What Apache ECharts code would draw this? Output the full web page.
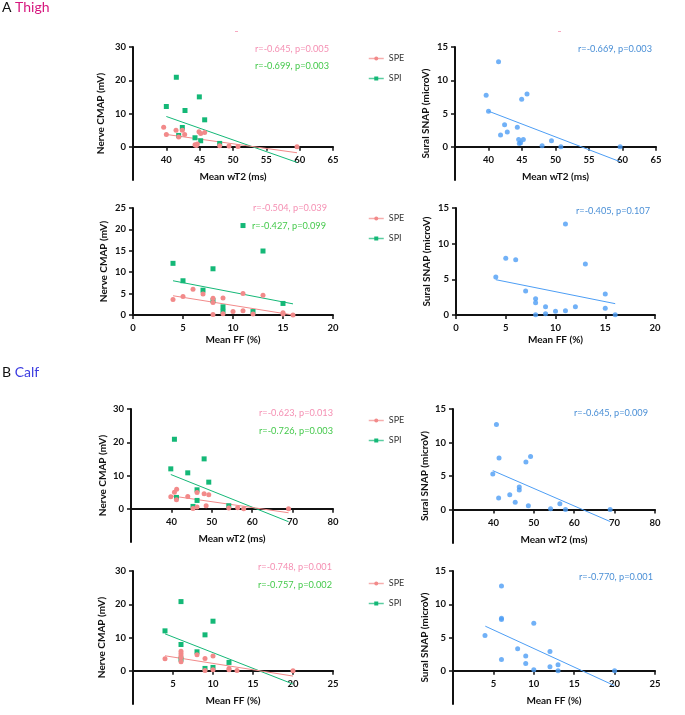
<!DOCTYPE html>
<html><head><meta charset="utf-8">
<script src="https://cdn.jsdelivr.net/npm/echarts@6/dist/echarts.min.js"></script>
<style>html,body{margin:0;padding:0;background:#fff}#c{width:685px;height:715px}</style>
</head><body><div id="c"></div>
<script>
// ---------- DATA ----------
// A Thigh: Mean wT2 vs Nerve CMAP
const thighWT2CmapSPE = [[39.6,5.9],[40,3.7],[41.45,5.0],[41.85,2.9],[42.4,5.0],[42.75,3.7],[44.3,0.6],[44.5,0.4],[44.65,0.8],[44.9,4.5],[45.15,4.0],[45.75,4.3],[48,0.3],[49.4,0.2],[50.75,0.1],[59.6,0]];
const thighWT2CmapSPI = [[40,12.1],[41.5,20.9],[44.95,15],[42.8,10.9],[45.75,8.1],[42.4,5.8],[41.85,3.4],[44.3,2.7],[45.15,1.8],[48,1.0]];
const thighWT2CmapFitSPE = [[40,3.7],[59.6,-1.8]];
const thighWT2CmapFitSPI = [[40,9.1],[59.6,-4.7]];
// A Thigh: Mean wT2 vs Sural SNAP
const thighWT2Snap = [[39.65,7.75],[40,5.35],[41.5,12.8],[41.8,1.75],[42.4,3.3],[42.8,2.2],[44.3,2.95],[44.5,1.1],[44.6,0.5],[44.8,0.6],[44.95,7.15],[45.2,1.1],[45.75,7.95],[48,0.15],[49.4,0.9],[50.8,0],[59.65,0]];
const thighWT2SnapFit = [[40,5.35],[59.65,-2.25]];
// A Thigh: Mean FF vs Nerve CMAP
const thighFFCmapSPE = [[4,3.65],[5,4.35],[6,6.0],[7,4.9],[8,3.9],[8,2.9],[8,0.1],[9,4.0],[9,0.3],[10,0.8],[11,1.0],[11,5.05],[12,0.25],[13,4.6],[15,0.55],[15,0.25],[16,0]];
const thighFFCmapSPI = [[4,12.07],[5,8.0],[7,5.8],[8,10.8],[8,3.35],[9,1.9],[9,0.85],[11,20.9],[13,14.95],[12,0.8],[15,2.7]];
const thighFFCmapFitSPE = [[4,4.5],[16,0]];
const thighFFCmapFitSPI = [[4,8.0],[16,2.6]];
// A Thigh: Mean FF vs Sural SNAP
const thighFFSnap = [[4,5.33],[5,7.94],[6,7.76],[7,3.36],[8,2.29],[8,1.73],[8,0.05],[9,1.17],[9,0.19],[10,0.51],[11,12.76],[11,0.61],[12,1.17],[13,7.15],[15,2.94],[15,0.93],[16,0.05]];
const thighFFSnapFit = [[4,4.95],[16,1.59]];
// B Calf: Mean wT2 vs Nerve CMAP
const calfWT2CmapSPE = [[39.85,3.6],[40.75,5.0],[41.3,5.9],[41.25,2.7],[44.05,3.7],[45.35,0.1],[46.35,4.9],[46.35,0.5],[48.1,4.5],[48.6,0.9],[49.25,4.2],[54.2,0.2],[56.4,0.3],[57.9,0],[69,0]];
const calfWT2CmapSPI = [[39.85,12],[40.75,20.9],[41.25,3.4],[44.05,10.8],[45.35,0.7],[46.35,5.7],[46.35,2.5],[48.1,15],[49.25,8],[54.2,0.9]];
const calfWT2CmapFitSPE = [[39.85,3.9],[69,-1.2]];
const calfWT2CmapFitSPI = [[39.85,10.3],[69,-3.9]];
// B Calf: Mean wT2 vs Sural SNAP
const calfWT2Snap = [[39.85,5.3],[40.75,12.7],[41.3,1.7],[41.4,7.7],[44.05,2.2],[45.4,1.1],[46.4,3.35],[46.4,2.9],[48.05,7.1],[48.65,0.55],[49.2,7.9],[54.15,0.1],[56.45,0.85],[57.85,0],[68.9,0]];
const calfWT2SnapFit = [[39.85,5.8],[68.9,-1.8]];
// B Calf: Mean FF vs Nerve CMAP
const calfFFCmapSPE = [[4,3.6],[6,5.9],[6,5.2],[6,4.5],[6,3.9],[6,2.7],[8,4.8],[9,3.7],[9,0.1],[10,4.4],[10,0.3],[12,0.7],[12,0.3],[13,0.1],[20,0]];
const calfFFCmapSPI = [[4,12.0],[6,20.8],[6,7.9],[6,3.5],[8,5.7],[9,10.8],[10,14.9],[9,0.7],[10,1.0],[12,2.5]];
const calfFFCmapFitSPE = [[4,4.5],[20,-1.6]];
const calfFFCmapFitSPI = [[4,11.1],[20,-4.0]];
// B Calf: Mean FF vs Sural SNAP
const calfFFSnap = [[3.96,5.3],[6,12.75],[6,7.9],[6,7.7],[6,1.7],[8,3.3],[9,2.2],[9,1.1],[10,7.15],[10,0.15],[12,2.9],[12,0.6],[13,0.9],[13,0],[20,0]];
const calfFFSnapFit = [[4,6.7],[20,-2.25]];

// Tick labels
const wT2ThighTicks = [40,45,50,55,60,65];
const wT2CalfTicks = [40,50,60,70,80];
const ffThighTicks = [0,5,10,15,20];
const ffCalfTicks = [5,10,15,20,25];
const cmapTicks30 = [0,10,20,30];
const cmapTicks25 = [0,5,10,15,20,25];
const snapTicks = [0,5,10,15];

// Correlation annotations
const statsText = {
  a1: ['r=-0.645, p=0.005','r=-0.699, p=0.003'],
  a2: ['r=-0.669, p=0.003'],
  a3: ['r=-0.504, p=0.039','r=-0.427, p=0.099'],
  a4: ['r=-0.405, p=0.107'],
  b1: ['r=-0.623, p=0.013','r=-0.726, p=0.003'],
  b2: ['r=-0.645, p=0.009'],
  b3: ['r=-0.748, p=0.001','r=-0.757, p=0.002'],
  b4: ['r=-0.770, p=0.001']
};

// ---------- STYLE / LAYOUT ----------
const FONT = 'Lato, "Open Sans", sans-serif';
const C_SPE = '#f28a8a', C_SPI = '#14b877', C_SNAP = '#4d9ef5';
const T_SPE = '#f590b3', T_SPI = '#45c94c', T_SNAP = '#4a8fd6';

const panels = [
  {grid:{left:133,top:47,width:200,height:133}, x:[35,65,5,wT2ThighTicks], y:[-10,30,10,cmapTicks30], xName:'Mean wT2 (ms)', yName:'Nerve CMAP (mV)', xGap:25, yGap:27,
   spe:thighWT2CmapSPE, spi:thighWT2CmapSPI, fitSpe:thighWT2CmapFitSPE, fitSpi:thighWT2CmapFitSPI},
  {grid:{left:455,top:47,width:201,height:133}, x:[35,65,5,wT2ThighTicks], y:[-5,15,5,snapTicks], xName:'Mean wT2 (ms)', yName:'Sural SNAP (microV)', xGap:25, yGap:24,
   snap:thighWT2Snap, fitSnap:thighWT2SnapFit},
  {grid:{left:133,top:208,width:200,height:107}, x:[0,20,5,ffThighTicks], y:[0,25,5,cmapTicks25], xName:'Mean FF (%)', yName:'Nerve CMAP (mV)', xGap:20, yGap:24,
   spe:thighFFCmapSPE, spi:thighFFCmapSPI, fitSpe:thighFFCmapFitSPE, fitSpi:thighFFCmapFitSPI},
  {grid:{left:456,top:208,width:199,height:107}, x:[0,20,5,ffThighTicks], y:[0,15,5,snapTicks], xName:'Mean FF (%)', yName:'Sural SNAP (microV)', xGap:20, yGap:24,
   snap:thighFFSnap, fitSnap:thighFFSnapFit},
  {grid:{left:131,top:409,width:202,height:133}, x:[30,80,10,wT2CalfTicks], y:[-10,30,10,cmapTicks30], xName:'Mean wT2 (ms)', yName:'Nerve CMAP (mV)', xGap:25, yGap:23,
   spe:calfWT2CmapSPE, spi:calfWT2CmapSPI, fitSpe:calfWT2CmapFitSPE, fitSpi:calfWT2CmapFitSPI},
  {grid:{left:453,top:409,width:202,height:134}, x:[30,80,10,wT2CalfTicks], y:[-5,15,5,snapTicks], xName:'Mean wT2 (ms)', yName:'Sural SNAP (microV)', xGap:25, yGap:23,
   snap:calfWT2Snap, fitSnap:calfWT2SnapFit},
  {grid:{left:133,top:571,width:200,height:133}, x:[0,25,5,ffCalfTicks], y:[-10,30,10,cmapTicks30], xName:'Mean FF (%)', yName:'Nerve CMAP (mV)', xGap:25, yGap:26,
   spe:calfFFCmapSPE, spi:calfFFCmapSPI, fitSpe:calfFFCmapFitSPE, fitSpi:calfFFCmapFitSPI},
  {grid:{left:453,top:571,width:202,height:133}, x:[0,25,5,ffCalfTicks], y:[-5,15,5,snapTicks], xName:'Mean FF (%)', yName:'Sural SNAP (microV)', xGap:25, yGap:23,
   snap:calfFFSnap, fitSnap:calfFFSnapFit}
];

const axisLineStyle = {color:'#111', width:2};
const labelStyle = {color:'#111', fontSize:9.5, fontWeight:'bold', fontFamily:FONT};
const nameStyle = {color:'#111', fontSize:10, fontWeight:'bold', fontFamily:FONT};
const tickStyle = {color:'#111', width:1.5};

const grids = [], xAxes = [], yAxes = [], series = [];
panels.forEach((p, i) => {
  const m = 2 * i, a = 2 * i + 1;
  const g = p.grid;
  // main plotting grid (full y range incl. negative part)
  grids.push({left:g.left, top:g.top, width:g.width, height:g.height});
  // axis grid: spans from ymax down to the zero line, carries the x axis
  const zeroH = g.height * p.y[1] / (p.y[1] - p.y[0]);
  grids.push({left:g.left, top:g.top, width:g.width, height:zeroH});

  xAxes.push({type:'value', gridIndex:m, min:p.x[0], max:p.x[1], interval:p.x[2], show:false});
  yAxes.push({
    type:'value', gridIndex:m, min:p.y[0], max:p.y[1], interval:p.y[2],
    splitLine:{show:false},
    axisLine:{show:true, onZero:false, lineStyle:axisLineStyle},
    axisTick:{show:true, length:4, lineStyle:tickStyle, customValues:p.y[3]},
    axisLabel:Object.assign({margin:7, customValues:p.y[3]}, labelStyle),
    name:p.yName, nameLocation:'middle', nameGap:p.yGap, nameRotate:90, nameTextStyle:nameStyle
  });
  xAxes.push({
    type:'value', gridIndex:a, min:p.x[0], max:p.x[1], interval:p.x[2],
    splitLine:{show:false},
    axisLine:{show:true, onZero:false, lineStyle:axisLineStyle},
    axisTick:{show:true, length:4, lineStyle:tickStyle, customValues:p.x[3]},
    axisLabel:Object.assign({margin:8, customValues:p.x[3]}, labelStyle),
    name:p.xName, nameLocation:'middle', nameGap:p.xGap, nameTextStyle:nameStyle
  });
  yAxes.push({type:'value', gridIndex:a, min:0, max:p.y[1], show:false});

  const fit = (data, color) => ({type:'line', xAxisIndex:m, yAxisIndex:m, data, showSymbol:false, silent:true,
    lineStyle:{color, width:1}, z:3});
  const pts = (name, data, symbol, color, size) => ({type:'line', name, xAxisIndex:m, yAxisIndex:m, data,
    symbol, symbolSize:size, showSymbol:true, itemStyle:{color}, lineStyle:{width:0, opacity:0, color}, z:4});
  if (p.spe) {
    series.push(fit(p.fitSpi, C_SPI));
    series.push(fit(p.fitSpe, C_SPE));
    series.push(pts('SPI', p.spi, 'rect', C_SPI, 5));
    series.push(pts('SPE', p.spe, 'circle', C_SPE, 5));
  } else {
    series.push(fit(p.fitSnap, C_SNAP));
    series.push({type:'scatter', xAxisIndex:m, yAxisIndex:m, data:p.snap, symbol:'circle', symbolSize:5,
      itemStyle:{color:C_SNAP}, z:4});
  }
});

const legendTops = [49, 209, 411, 574];
const legends = legendTops.map(t => ({
  data:['SPE','SPI'], orient:'vertical', left:363, top:t, itemWidth:15, itemHeight:5, itemGap:11,
  textStyle:{color:'#333', fontSize:9, fontFamily:FONT}, itemStyle:{opacity:1},
  lineStyle:{width:1.5, opacity:0.7}, selectedMode:false
}));

function statText(txt, right, y, color) {
  return {type:'text', right: 685 - right, top: y - 6,
    style:{text:txt, fill:color, font:'9.2px ' + FONT}};
}
const graphics = [
  {type:'text', left:2, top:0, style:{text:'{a|A }{b|Thigh}', rich:{a:{fill:'#111', fontSize:14, fontFamily:FONT}, b:{fill:'#d6177e', fontSize:14, fontFamily:FONT}}}},
  {type:'text', left:2, top:365, style:{text:'{a|B }{b|Calf}', rich:{a:{fill:'#111', fontSize:14, fontFamily:FONT}, b:{fill:'#3b3be0', fontSize:14, fontFamily:FONT}}}},
  {type:'rect', left:235, top:31, shape:{width:3, height:1}, style:{fill:'#f7a8c0'}},
  {type:'rect', left:558, top:31, shape:{width:3, height:1}, style:{fill:'#f7a8c0'}},
  statText(statsText.a1[0], 329, 51, T_SPE),
  statText(statsText.a1[1], 329, 68, T_SPI),
  statText(statsText.a2[0], 652, 51, T_SNAP),
  statText(statsText.a3[0], 327, 210, T_SPE),
  statText(statsText.a3[1], 326, 228, T_SPI),
  statText(statsText.a4[0], 650, 213, T_SNAP),
  statText(statsText.b1[0], 333, 415, T_SPE),
  statText(statsText.b1[1], 333, 433, T_SPI),
  statText(statsText.b2[0], 648, 415, T_SNAP),
  statText(statsText.b3[0], 332, 569, T_SPE),
  statText(statsText.b3[1], 332, 587, T_SPI),
  statText(statsText.b4[0], 653, 579, T_SNAP)
];

const chart = echarts.init(document.getElementById('c'), null, {renderer:'canvas'});
chart.setOption({
  animation:false,
  backgroundColor:'#fff',
  grid:grids, xAxis:xAxes, yAxis:yAxes, series, legend:legends, graphic:graphics
});
</script></body></html>
